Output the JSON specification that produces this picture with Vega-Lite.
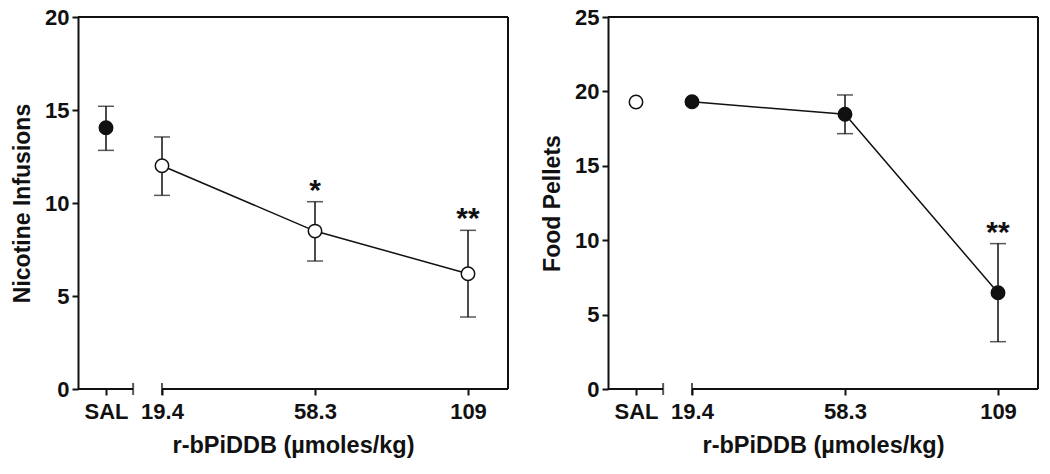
{
  "$schema": "https://vega.github.io/schema/vega-lite/v6.json",
  "background": "white",
  "padding": {"left": 11, "top": 6, "right": 5, "bottom": 5},
  "config": {
    "view": {"stroke": null},
    "font": "Liberation Sans",
    "axis": {
      "labelFont": "Liberation Sans", "labelFontWeight": "bold", "labelFontSize": 22, "labelColor": "#111",
      "titleFont": "Liberation Sans", "titleFontWeight": "bold", "titleFontSize": 23, "titleColor": "#111",
      "domainColor": "#111", "domainWidth": 2, "tickColor": "#111", "tickWidth": 2, "tickSize": 6, "grid": false
    }
  },
  "datasets": {
    "nicotine": [
      {"dose": 0, "mean": 14.05, "lo": 12.83, "hi": 15.2, "marker": "filled", "sig": ""},
      {"dose": 19.4, "mean": 12.0, "lo": 10.41, "hi": 13.55, "marker": "open", "sig": ""},
      {"dose": 58.3, "mean": 8.49, "lo": 6.88, "hi": 10.07, "marker": "open", "sig": "*"},
      {"dose": 109, "mean": 6.2, "lo": 3.87, "hi": 8.53, "marker": "open", "sig": "**"}
    ],
    "food": [
      {"dose": 0, "mean": 19.29, "lo": null, "hi": null, "marker": "open", "sig": ""},
      {"dose": 19.4, "mean": 19.3, "lo": null, "hi": null, "marker": "filled", "sig": ""},
      {"dose": 58.3, "mean": 18.46, "lo": 17.16, "hi": 19.76, "marker": "filled", "sig": ""},
      {"dose": 109, "mean": 6.47, "lo": 3.18, "hi": 9.77, "marker": "filled", "sig": "**"}
    ],
    "segments": [{"start": -10, "end": 9.4}, {"start": 19.4, "end": 122.3}],
    "breaks": [{"at": 9.4}, {"at": 19.4}]
  },
  "resolve": {"scale": {"y": "independent"}},
  "spacing": 32,
  "hconcat": [
    {
      "width": 430, "height": 372,
      "data": {"name": "nicotine"},
      "layer": [
        {
          "data": {"name": "segments"},
          "mark": {"type": "rule", "color": "#111", "strokeWidth": 2},
          "encoding": {
            "x": {"field": "start", "type": "quantitative", "scale": {"domain": [-10, 0, 19.4, 58.3, 109, 122.3], "range": [0, 28, 84, 237, 390, 430], "nice": false, "zero": false}, "axis": {"values": [0, 19.4, 58.3, 109], "labelExpr": "datum.value === 0 ? 'SAL' : '' + datum.value", "domain": false, "ticks": true, "title": "r-bPiDDB (µmoles/kg)", "titleFontSize": 23.5, "titlePadding": 11, "labelPadding": 6, "labelFlush": false, "labelOverlap": false}},
            "x2": {"field": "end"},
            "y": {"datum": 0, "type": "quantitative", "scale": {"domain": [0, 20], "nice": false}, "axis": {"values": [0, 5, 10, 15, 20], "title": "Nicotine Infusions", "titlePadding": 10, "labelPadding": 3}}
          }
        },
        {
          "data": {"name": "breaks"},
          "mark": {"type": "tick", "orient": "vertical", "color": "#111", "size": 12, "thickness": 2},
          "encoding": {
            "x": {"field": "at", "type": "quantitative", "scale": {"domain": [-10, 0, 19.4, 58.3, 109, 122.3], "range": [0, 28, 84, 237, 390, 430], "nice": false, "zero": false}, "axis": {"values": [0, 19.4, 58.3, 109], "labelExpr": "datum.value === 0 ? 'SAL' : '' + datum.value", "domain": false, "ticks": true, "title": "r-bPiDDB (µmoles/kg)", "titleFontSize": 23.5, "titlePadding": 11, "labelPadding": 6, "labelFlush": false, "labelOverlap": false}},
            "y": {"datum": 0, "type": "quantitative", "scale": {"domain": [0, 20], "nice": false}, "axis": {"values": [0, 5, 10, 15, 20], "title": "Nicotine Infusions", "titlePadding": 10, "labelPadding": 3}}
          }
        },
        {
          "mark": {"type": "rule", "color": "#111", "strokeWidth": 2},
          "encoding": {"y": {"datum": 20, "type": "quantitative", "scale": {"domain": [0, 20], "nice": false}, "axis": {"values": [0, 5, 10, 15, 20], "title": "Nicotine Infusions", "titlePadding": 10, "labelPadding": 3}}}
        },
        {
          "mark": {"type": "rule", "color": "#111", "strokeWidth": 2},
          "encoding": {"x": {"datum": 122.3, "type": "quantitative", "scale": {"domain": [-10, 0, 19.4, 58.3, 109, 122.3], "range": [0, 28, 84, 237, 390, 430], "nice": false, "zero": false}, "axis": {"values": [0, 19.4, 58.3, 109], "labelExpr": "datum.value === 0 ? 'SAL' : '' + datum.value", "domain": false, "ticks": true, "title": "r-bPiDDB (µmoles/kg)", "titleFontSize": 23.5, "titlePadding": 11, "labelPadding": 6, "labelFlush": false, "labelOverlap": false}}}
        },
        {
          "transform": [{"filter": "datum.dose > 0"}],
          "mark": {"type": "line", "color": "#111", "strokeWidth": 1.5},
          "encoding": {
            "x": {"field": "dose", "type": "quantitative", "scale": {"domain": [-10, 0, 19.4, 58.3, 109, 122.3], "range": [0, 28, 84, 237, 390, 430], "nice": false, "zero": false}, "axis": {"values": [0, 19.4, 58.3, 109], "labelExpr": "datum.value === 0 ? 'SAL' : '' + datum.value", "domain": false, "ticks": true, "title": "r-bPiDDB (µmoles/kg)", "titleFontSize": 23.5, "titlePadding": 11, "labelPadding": 6, "labelFlush": false, "labelOverlap": false}},
            "y": {"field": "mean", "type": "quantitative", "scale": {"domain": [0, 20], "nice": false}, "axis": {"values": [0, 5, 10, 15, 20], "title": "Nicotine Infusions", "titlePadding": 10, "labelPadding": 3}}
          }
        },
        {
          "transform": [{"filter": "datum.hi != null"}],
          "mark": {"type": "rule", "color": "#111", "strokeWidth": 1.5},
          "encoding": {
            "x": {"field": "dose", "type": "quantitative", "scale": {"domain": [-10, 0, 19.4, 58.3, 109, 122.3], "range": [0, 28, 84, 237, 390, 430], "nice": false, "zero": false}, "axis": {"values": [0, 19.4, 58.3, 109], "labelExpr": "datum.value === 0 ? 'SAL' : '' + datum.value", "domain": false, "ticks": true, "title": "r-bPiDDB (µmoles/kg)", "titleFontSize": 23.5, "titlePadding": 11, "labelPadding": 6, "labelFlush": false, "labelOverlap": false}},
            "y": {"field": "lo", "type": "quantitative", "scale": {"domain": [0, 20], "nice": false}, "axis": {"values": [0, 5, 10, 15, 20], "title": "Nicotine Infusions", "titlePadding": 10, "labelPadding": 3}},
            "y2": {"field": "hi"}
          }
        },
        {
          "transform": [{"filter": "datum.hi != null"}, {"fold": ["lo", "hi"], "as": ["end", "val"]}],
          "mark": {"type": "tick", "orient": "horizontal", "color": "#111", "size": 16, "thickness": 1.5},
          "encoding": {
            "x": {"field": "dose", "type": "quantitative", "scale": {"domain": [-10, 0, 19.4, 58.3, 109, 122.3], "range": [0, 28, 84, 237, 390, 430], "nice": false, "zero": false}, "axis": {"values": [0, 19.4, 58.3, 109], "labelExpr": "datum.value === 0 ? 'SAL' : '' + datum.value", "domain": false, "ticks": true, "title": "r-bPiDDB (µmoles/kg)", "titleFontSize": 23.5, "titlePadding": 11, "labelPadding": 6, "labelFlush": false, "labelOverlap": false}},
            "y": {"field": "val", "type": "quantitative", "scale": {"domain": [0, 20], "nice": false}, "axis": {"values": [0, 5, 10, 15, 20], "title": "Nicotine Infusions", "titlePadding": 10, "labelPadding": 3}}
          }
        },
        {
          "mark": {"type": "point", "shape": "circle", "filled": true, "size": 180, "stroke": "#111", "strokeWidth": 1.5, "opacity": 1},
          "encoding": {
            "x": {"field": "dose", "type": "quantitative", "scale": {"domain": [-10, 0, 19.4, 58.3, 109, 122.3], "range": [0, 28, 84, 237, 390, 430], "nice": false, "zero": false}, "axis": {"values": [0, 19.4, 58.3, 109], "labelExpr": "datum.value === 0 ? 'SAL' : '' + datum.value", "domain": false, "ticks": true, "title": "r-bPiDDB (µmoles/kg)", "titleFontSize": 23.5, "titlePadding": 11, "labelPadding": 6, "labelFlush": false, "labelOverlap": false}},
            "y": {"field": "mean", "type": "quantitative", "scale": {"domain": [0, 20], "nice": false}, "axis": {"values": [0, 5, 10, 15, 20], "title": "Nicotine Infusions", "titlePadding": 10, "labelPadding": 3}},
            "fill": {"field": "marker", "type": "nominal", "scale": {"domain": ["filled", "open"], "range": ["#111111", "#ffffff"]}, "legend": null}
          }
        },
        {
          "transform": [{"filter": "datum.sig != ''"}],
          "mark": {"type": "text", "font": "Liberation Sans", "fontWeight": "bold", "fontSize": 30, "color": "#111", "baseline": "alphabetic", "dy": -2},
          "encoding": {
            "x": {"field": "dose", "type": "quantitative", "scale": {"domain": [-10, 0, 19.4, 58.3, 109, 122.3], "range": [0, 28, 84, 237, 390, 430], "nice": false, "zero": false}, "axis": {"values": [0, 19.4, 58.3, 109], "labelExpr": "datum.value === 0 ? 'SAL' : '' + datum.value", "domain": false, "ticks": true, "title": "r-bPiDDB (µmoles/kg)", "titleFontSize": 23.5, "titlePadding": 11, "labelPadding": 6, "labelFlush": false, "labelOverlap": false}},
            "y": {"field": "hi", "type": "quantitative", "scale": {"domain": [0, 20], "nice": false}, "axis": {"values": [0, 5, 10, 15, 20], "title": "Nicotine Infusions", "titlePadding": 10, "labelPadding": 3}},
            "text": {"field": "sig"}
          }
        }
      ]
    },
    {
      "width": 430, "height": 372,
      "data": {"name": "food"},
      "layer": [
        {
          "data": {"name": "segments"},
          "mark": {"type": "rule", "color": "#111", "strokeWidth": 2},
          "encoding": {
            "x": {"field": "start", "type": "quantitative", "scale": {"domain": [-10, 0, 19.4, 58.3, 109, 122.3], "range": [0, 28, 84, 237, 390, 430], "nice": false, "zero": false}, "axis": {"values": [0, 19.4, 58.3, 109], "labelExpr": "datum.value === 0 ? 'SAL' : '' + datum.value", "domain": false, "ticks": true, "title": "r-bPiDDB (µmoles/kg)", "titleFontSize": 23.5, "titlePadding": 11, "labelPadding": 6, "labelFlush": false, "labelOverlap": false}},
            "x2": {"field": "end"},
            "y": {"datum": 0, "type": "quantitative", "scale": {"domain": [0, 25], "nice": false}, "axis": {"values": [0, 5, 10, 15, 20, 25], "title": "Food Pellets", "titlePadding": 10, "labelPadding": 3}}
          }
        },
        {
          "data": {"name": "breaks"},
          "mark": {"type": "tick", "orient": "vertical", "color": "#111", "size": 12, "thickness": 2},
          "encoding": {
            "x": {"field": "at", "type": "quantitative", "scale": {"domain": [-10, 0, 19.4, 58.3, 109, 122.3], "range": [0, 28, 84, 237, 390, 430], "nice": false, "zero": false}, "axis": {"values": [0, 19.4, 58.3, 109], "labelExpr": "datum.value === 0 ? 'SAL' : '' + datum.value", "domain": false, "ticks": true, "title": "r-bPiDDB (µmoles/kg)", "titleFontSize": 23.5, "titlePadding": 11, "labelPadding": 6, "labelFlush": false, "labelOverlap": false}},
            "y": {"datum": 0, "type": "quantitative", "scale": {"domain": [0, 25], "nice": false}, "axis": {"values": [0, 5, 10, 15, 20, 25], "title": "Food Pellets", "titlePadding": 10, "labelPadding": 3}}
          }
        },
        {
          "mark": {"type": "rule", "color": "#111", "strokeWidth": 2},
          "encoding": {"y": {"datum": 25, "type": "quantitative", "scale": {"domain": [0, 25], "nice": false}, "axis": {"values": [0, 5, 10, 15, 20, 25], "title": "Food Pellets", "titlePadding": 10, "labelPadding": 3}}}
        },
        {
          "mark": {"type": "rule", "color": "#111", "strokeWidth": 2},
          "encoding": {"x": {"datum": 122.3, "type": "quantitative", "scale": {"domain": [-10, 0, 19.4, 58.3, 109, 122.3], "range": [0, 28, 84, 237, 390, 430], "nice": false, "zero": false}, "axis": {"values": [0, 19.4, 58.3, 109], "labelExpr": "datum.value === 0 ? 'SAL' : '' + datum.value", "domain": false, "ticks": true, "title": "r-bPiDDB (µmoles/kg)", "titleFontSize": 23.5, "titlePadding": 11, "labelPadding": 6, "labelFlush": false, "labelOverlap": false}}}
        },
        {
          "transform": [{"filter": "datum.dose > 0"}],
          "mark": {"type": "line", "color": "#111", "strokeWidth": 1.5},
          "encoding": {
            "x": {"field": "dose", "type": "quantitative", "scale": {"domain": [-10, 0, 19.4, 58.3, 109, 122.3], "range": [0, 28, 84, 237, 390, 430], "nice": false, "zero": false}, "axis": {"values": [0, 19.4, 58.3, 109], "labelExpr": "datum.value === 0 ? 'SAL' : '' + datum.value", "domain": false, "ticks": true, "title": "r-bPiDDB (µmoles/kg)", "titleFontSize": 23.5, "titlePadding": 11, "labelPadding": 6, "labelFlush": false, "labelOverlap": false}},
            "y": {"field": "mean", "type": "quantitative", "scale": {"domain": [0, 25], "nice": false}, "axis": {"values": [0, 5, 10, 15, 20, 25], "title": "Food Pellets", "titlePadding": 10, "labelPadding": 3}}
          }
        },
        {
          "transform": [{"filter": "datum.hi != null"}],
          "mark": {"type": "rule", "color": "#111", "strokeWidth": 1.5},
          "encoding": {
            "x": {"field": "dose", "type": "quantitative", "scale": {"domain": [-10, 0, 19.4, 58.3, 109, 122.3], "range": [0, 28, 84, 237, 390, 430], "nice": false, "zero": false}, "axis": {"values": [0, 19.4, 58.3, 109], "labelExpr": "datum.value === 0 ? 'SAL' : '' + datum.value", "domain": false, "ticks": true, "title": "r-bPiDDB (µmoles/kg)", "titleFontSize": 23.5, "titlePadding": 11, "labelPadding": 6, "labelFlush": false, "labelOverlap": false}},
            "y": {"field": "lo", "type": "quantitative", "scale": {"domain": [0, 25], "nice": false}, "axis": {"values": [0, 5, 10, 15, 20, 25], "title": "Food Pellets", "titlePadding": 10, "labelPadding": 3}},
            "y2": {"field": "hi"}
          }
        },
        {
          "transform": [{"filter": "datum.hi != null"}, {"fold": ["lo", "hi"], "as": ["end", "val"]}],
          "mark": {"type": "tick", "orient": "horizontal", "color": "#111", "size": 16, "thickness": 1.5},
          "encoding": {
            "x": {"field": "dose", "type": "quantitative", "scale": {"domain": [-10, 0, 19.4, 58.3, 109, 122.3], "range": [0, 28, 84, 237, 390, 430], "nice": false, "zero": false}, "axis": {"values": [0, 19.4, 58.3, 109], "labelExpr": "datum.value === 0 ? 'SAL' : '' + datum.value", "domain": false, "ticks": true, "title": "r-bPiDDB (µmoles/kg)", "titleFontSize": 23.5, "titlePadding": 11, "labelPadding": 6, "labelFlush": false, "labelOverlap": false}},
            "y": {"field": "val", "type": "quantitative", "scale": {"domain": [0, 25], "nice": false}, "axis": {"values": [0, 5, 10, 15, 20, 25], "title": "Food Pellets", "titlePadding": 10, "labelPadding": 3}}
          }
        },
        {
          "mark": {"type": "point", "shape": "circle", "filled": true, "size": 180, "stroke": "#111", "strokeWidth": 1.5, "opacity": 1},
          "encoding": {
            "x": {"field": "dose", "type": "quantitative", "scale": {"domain": [-10, 0, 19.4, 58.3, 109, 122.3], "range": [0, 28, 84, 237, 390, 430], "nice": false, "zero": false}, "axis": {"values": [0, 19.4, 58.3, 109], "labelExpr": "datum.value === 0 ? 'SAL' : '' + datum.value", "domain": false, "ticks": true, "title": "r-bPiDDB (µmoles/kg)", "titleFontSize": 23.5, "titlePadding": 11, "labelPadding": 6, "labelFlush": false, "labelOverlap": false}},
            "y": {"field": "mean", "type": "quantitative", "scale": {"domain": [0, 25], "nice": false}, "axis": {"values": [0, 5, 10, 15, 20, 25], "title": "Food Pellets", "titlePadding": 10, "labelPadding": 3}},
            "fill": {"field": "marker", "type": "nominal", "scale": {"domain": ["filled", "open"], "range": ["#111111", "#ffffff"]}, "legend": null}
          }
        },
        {
          "transform": [{"filter": "datum.sig != ''"}],
          "mark": {"type": "text", "font": "Liberation Sans", "fontWeight": "bold", "fontSize": 30, "color": "#111", "baseline": "alphabetic", "dy": -2},
          "encoding": {
            "x": {"field": "dose", "type": "quantitative", "scale": {"domain": [-10, 0, 19.4, 58.3, 109, 122.3], "range": [0, 28, 84, 237, 390, 430], "nice": false, "zero": false}, "axis": {"values": [0, 19.4, 58.3, 109], "labelExpr": "datum.value === 0 ? 'SAL' : '' + datum.value", "domain": false, "ticks": true, "title": "r-bPiDDB (µmoles/kg)", "titleFontSize": 23.5, "titlePadding": 11, "labelPadding": 6, "labelFlush": false, "labelOverlap": false}},
            "y": {"field": "hi", "type": "quantitative", "scale": {"domain": [0, 25], "nice": false}, "axis": {"values": [0, 5, 10, 15, 20, 25], "title": "Food Pellets", "titlePadding": 10, "labelPadding": 3}},
            "text": {"field": "sig"}
          }
        }
      ]
    }
  ]
}
